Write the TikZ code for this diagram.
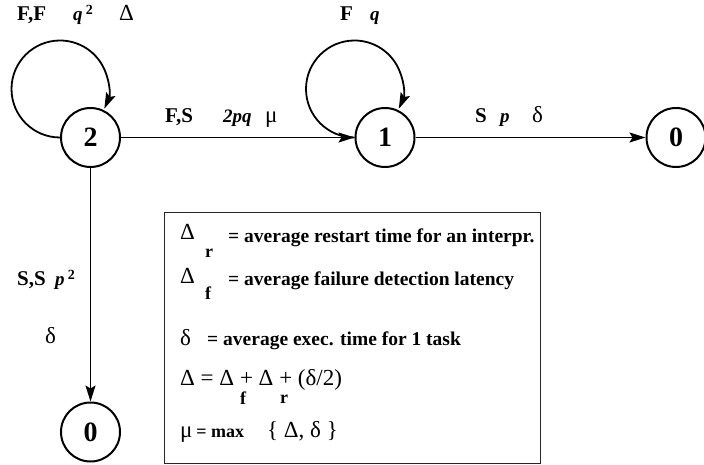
\documentclass[tikz,border=0pt]{standalone}
\usepackage{fontspec}
\setmainfont{Liberation Serif}
\usepackage{tikz}
\usetikzlibrary{arrows.meta}
\newcommand{\sqr}{\raisebox{6pt}{\fontsize{14}{14}\selectfont\upshape\bfseries 2}}

\begin{document}
\begin{tikzpicture}[
    x=1pt, y=-1pt,
    state/.style={circle, draw, line width=2pt, minimum size=59pt, inner sep=0pt, font=\fontsize{28}{28}\selectfont\bfseries},
    arrow/.style={-{Stealth[length=16pt, width=10pt, inset=3pt]}, line width=1.8pt},
    lbl/.style={anchor=base west, inner sep=0pt, font=\fontsize{21}{21}\selectfont\bfseries},
    prob/.style={anchor=base west, inner sep=0pt, font=\fontsize{19}{19}\selectfont\bfseries\itshape},
    tm/.style={anchor=base west, inner sep=0pt, font=\fontsize{23}{23}\selectfont},
    legendbox/.style={draw=black!85, line width=1.3pt, anchor=north west, minimum width=376pt, minimum height=251pt, inner sep=0pt},
    legend/.style={anchor=base west, inner sep=0pt, font=\fontsize{19.5}{19.5}\selectfont\bfseries},
    sub/.style={anchor=base west, inner sep=0pt, font=\fontsize{18}{18}\selectfont\bfseries},
    formula/.style={anchor=base west, inner sep=0pt, font=\fontsize{23}{23}\selectfont}
  ]
    \useasboundingbox (0,0) rectangle (704,465);

    % states
    \node[state] (two) at (90.5,137.5) {2};
    \node[state] (one) at (385,137.5) {1};
    \node[state] (doneR) at (676,137.5) {0};
    \node[state] (doneB) at (90.5,432) {0};

    % transitions
    \draw[arrow] (two.west) arc[start angle=90, end angle=384, radius=48.5];
    \draw[arrow] (one.west) arc[start angle=90, end angle=384, radius=48.5];
    \draw[arrow] (two) -- (one);
    \draw[arrow] (one) -- (doneR);
    \draw[arrow] (two) -- (doneB);

    % transition labels
    \node[lbl] (ffName) at (17,21) {F,F};
    \node[prob] (ffProb) at (73,21) {q\,\sqr};
    \node[tm] (ffTime) at (119,21) {Δ};
    \node[lbl] (fName) at (340,21) {F};
    \node[prob] (fProb) at (370,21) {q};
    \node[lbl] (fsName) at (165,123) {F,S};
    \node[prob] (fsProb) at (223,123) {2pq};
    \node[tm] (fsTime) at (265,123) {μ};
    \node[lbl] (sName) at (475,123) {S};
    \node[prob] (sProb) at (500,123) {p};
    \node[tm] (sTime) at (532,123) {δ};
    \node[lbl] (ssName) at (17,285) {S,S};
    \node[prob] (ssProb) at (55,285) {p\,\sqr};
    \node[tm] (ssTime) at (45,343) {δ};

    % legend
    \node[legendbox] (legend) at (164,212) {};
    \node[tm] (dr) at (180,240) {Δ};
    \node[sub] (drSub) at (205,257) {r};
    \node[legend] (drText) at (228,242) {= average restart time for an interpr.};
    \node[tm] (df) at (180,283) {Δ};
    \node[sub] (dfSub) at (205,299) {f};
    \node[legend] (dfText) at (228,285) {= average failure detection latency};
    \node[tm] (dl) at (180,345) {δ};
    \node[legend] (dlText) at (207,345) {= average exec. time for 1 task};
    \node[formula] (dSum) at (180,385) {Δ = Δ + Δ + (δ/2)};
    \node[sub] (sumF) at (240,404) {f};
    \node[sub] (sumR) at (280,403) {r};
    \node[formula] (muMax) at (180,437) {μ\,{\fontsize{18}{18}\selectfont\bfseries = max}\quad\{ Δ, δ \}};
  \end{tikzpicture}
\end{document}
